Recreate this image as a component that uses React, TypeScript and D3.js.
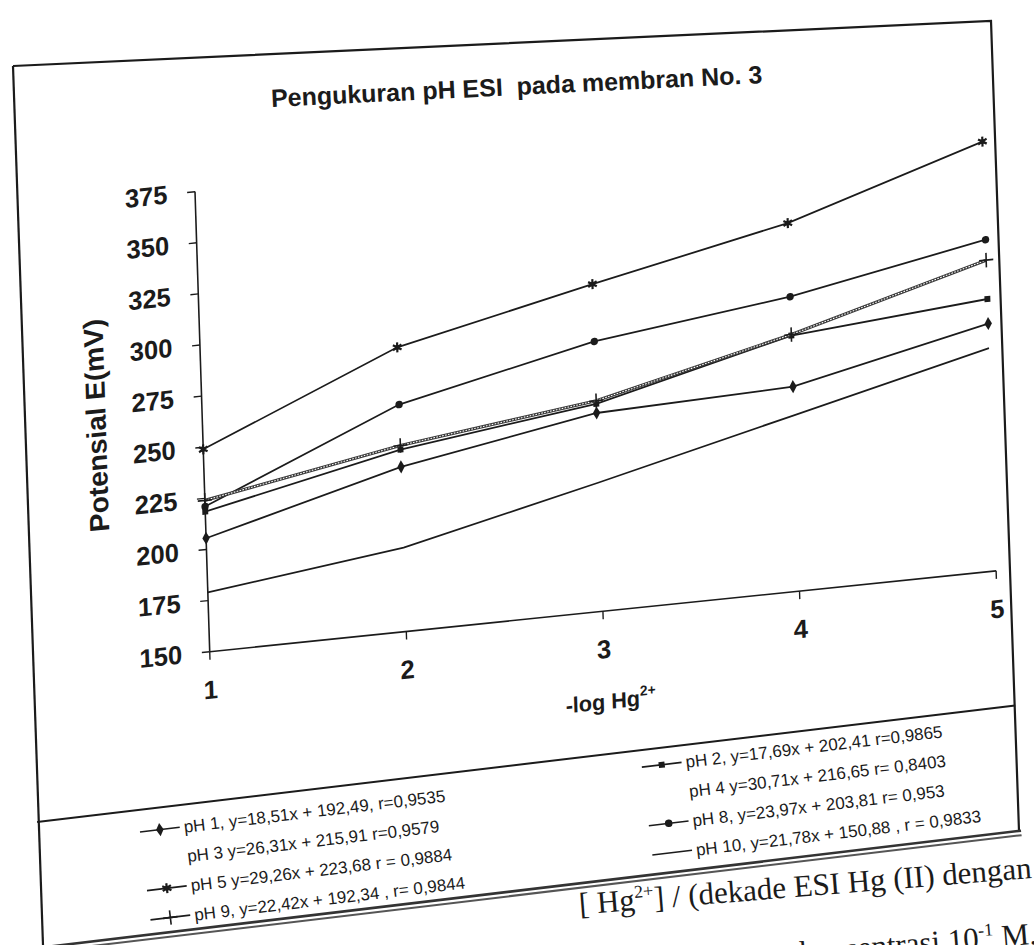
import React from "react";
import * as d3 from "d3";

// -log Hg2+ on x, potential (mV) on y
const xValues = [1, 2, 3, 4, 5];
const xTicks = [1, 2, 3, 4, 5];
const yTicks = [150, 175, 200, 225, 250, 275, 300, 325, 350, 375];

// values
const pH1 = [205.5, 230.5, 247, 250, 271];
const pH2 = [218.5, 239, 251.5, 275, 283];
const pH5 = [249, 289, 310, 330, 360];
const pH8 = [221, 261, 282, 294, 312];
const pH9 = [224, 241, 253, 275.5, 302];
const pH10 = [179, 191, 213, 236, 259];
// pH 3 and pH 4 lines printed too light to survive the scan, only legend text left

const legendLeft = [
  "pH 1, y=18,51x + 192,49, r=0,9535",
  "pH 3 y=26,31x + 215,91 r=0,9579",
  "pH 5 y=29,26x + 223,68 r = 0,9884",
  "pH 9, y=22,42x + 192,34 , r= 0,9844",
];
const legendLeftMarkers = ["diamond", "hidden", "asterisk", "plus"];
const legendRight = [
  "pH 2, y=17,69x + 202,41 r=0,9865",
  "pH 4 y=30,71x + 216,65 r= 0,8403",
  "pH 8, y=23,97x + 203,81 r= 0,953",
  "pH 10, y=21,78x + 150,88 , r = 0,9833",
];
const legendRightMarkers = ["square", "hidden", "circle", "none"];

const series = [
  { values: pH5, marker: "asterisk", hatched: false },
  { values: pH8, marker: "circle", hatched: false },
  { values: pH2, marker: "square", hatched: false },
  { values: pH9, marker: "plus", hatched: true },
  { values: pH1, marker: "diamond", hatched: false },
  { values: pH10, marker: "none", hatched: false },
];

const INK = "#1b1b1b";
const W = 800;
const H = 460;
// the page was photographed slanted
const PLOT_MATRIX = "matrix(0.983,-0.101,0.032,1,195,191.7)";
const LEG_ROW = 29.5;
const LEG_COL2 = 506;

function Marker({ kind, x, y }: { kind: string; x: number; y: number }) {
  const t = `translate(${x},${y})`;
  if (kind === "diamond")
    return <path transform={t} d={d3.symbol(d3.symbolDiamond, 50)()!} fill={INK} />;
  if (kind === "square")
    return <path transform={t} d={d3.symbol(d3.symbolSquare, 36)()!} fill={INK} />;
  if (kind === "circle")
    return <path transform={t} d={d3.symbol(d3.symbolCircle, 44)()!} fill={INK} />;
  if (kind === "plus")
    return (
      <path transform={t} d={d3.symbol(d3.symbolPlus, 70)()!} fill="none" stroke={INK} strokeWidth={1.6} />
    );
  if (kind === "asterisk")
    return (
      <g transform={t}>
        <path d={d3.symbol(d3.symbolAsterisk, 70)()!} fill="none" stroke={INK} strokeWidth={2.2} />
        <path d={d3.symbol(d3.symbolSquare, 18)()!} fill={INK} />
      </g>
    );
  return null;
}

function LegendItem({ x, y, kind, label }: { x: number; y: number; kind: string; label: string }) {
  return (
    <g>
      {kind !== "hidden" && <line x1={x} x2={x + 40} y1={y} y2={y} stroke={INK} strokeWidth={1.6} />}
      {kind !== "hidden" && <Marker kind={kind} x={x + 20} y={y} />}
      <text x={x + 44} y={y + 6} fontSize={17} fill={INK}>
        {label}
      </text>
    </g>
  );
}

export default function App() {
  const x = d3.scaleLinear().domain([1, 5]).range([0, W]);
  const y = d3.scaleLinear().domain([150, 375]).range([H, 0]);
  const line = d3
    .line<number>()
    .x((_, i) => x(xValues[i]))
    .y((d) => y(d));

  return (
    <svg
      width={1034}
      height={945}
      style={{ position: "absolute", left: 0, top: 0, background: "#fff" }}
      fontFamily="'Liberation Sans', Arial, sans-serif"
    >
      <rect width={1034} height={945} fill="#fff" />

      {/* frame */}
      <path d="M13,66 L991,21 L1019,831" fill="none" stroke={INK} strokeWidth={2.2} />
      <path d="M13,66 L43,945" fill="none" stroke={INK} strokeWidth={2.2} />

      {/* title */}
      <text
        x={517}
        y={95}
        transform="rotate(-2.8,517,95)"
        textAnchor="middle"
        fontSize={25}
        fontWeight="bold"
        fill={INK}
        xmlSpace="preserve"
      >
        Pengukuran pH ESI  pada membran No. 3
      </text>

      <g transform={PLOT_MATRIX}>
        {/* y axis */}
        <line x1={0} x2={0} y1={0} y2={H} stroke={INK} strokeWidth={1.6} />
        {yTicks.map((t) => (
          <g key={t} transform={`translate(0,${y(t)})`}>
            <line x1={-8} x2={0} stroke={INK} strokeWidth={1.4} />
            <text x={-28} y={9} textAnchor="end" fontSize={26} fontWeight="bold" fill={INK}>
              {t}
            </text>
          </g>
        ))}
        {/* x axis */}
        <line x1={0} x2={W} y1={H} y2={H} stroke={INK} strokeWidth={1.6} />
        {xTicks.map((t) => (
          <g key={t} transform={`translate(${x(t)},${H})`}>
            <line y1={0} y2={8} stroke={INK} strokeWidth={1.4} />
            <text y={47} textAnchor="middle" fontSize={26} fontWeight="bold" fill={INK}>
              {t}
            </text>
          </g>
        ))}
        <text x={405} y={558} textAnchor="middle" fontSize={22} fontWeight="bold" fill={INK}>
          -log Hg
          <tspan dy={-10} fontSize={14}>
            2+
          </tspan>
        </text>
        <text
          transform="translate(-108,223) rotate(-90)"
          textAnchor="middle"
          y={10}
          fontSize={28}
          fontWeight="bold"
          fill={INK}
        >
          Potensial E(mV)
        </text>

        {/* series */}
        {series.map((s, i) => (
          <g key={i}>
            {s.hatched ? (
              <>
                <path d={line(s.values)!} fill="none" stroke="#3a3a3a" strokeWidth={3.2} />
                <path d={line(s.values)!} fill="none" stroke="#fff" strokeWidth={1.1} strokeDasharray="1.6 1.4" />
              </>
            ) : (
              <path d={line(s.values)!} fill="none" stroke={INK} strokeWidth={1.8} />
            )}
            {s.values.map((v, j) => (
              <Marker key={j} kind={s.marker} x={x(xValues[j])} y={y(v)} />
            ))}
          </g>
        ))}
      </g>

      {/* legend */}
      <g transform="translate(140,832) rotate(-6.8)">
        <line x1={-101} x2={884} y1={-22} y2={-22} stroke={INK} strokeWidth={2} />
        <line x1={-101} x2={875} y1={103} y2={103} stroke="#333" strokeWidth={2.6} />
        <line x1={-101} x2={875} y1={107.5} y2={107.5} stroke="#555" strokeWidth={2} />
        {legendLeft.map((label, i) => (
          <LegendItem key={label} x={0} y={i * LEG_ROW} kind={legendLeftMarkers[i]} label={label} />
        ))}
        {legendRight.map((label, i) => (
          <LegendItem key={label} x={LEG_COL2} y={i * LEG_ROW - 5} kind={legendRightMarkers[i]} label={label} />
        ))}
      </g>

      {/* caption of the page below the figure */}
      <g transform="rotate(-4.6,1032,876)" fontFamily="'Liberation Serif', 'Times New Roman', serif" fontSize={31} fill={INK}>
        <text x={1032} y={878} textAnchor="end">
          [ Hg
          <tspan dy={-12} fontSize={18}>
            2+
          </tspan>
          <tspan dy={12}>] / (dekade ESI Hg (II) dengan</tspan>
        </text>
        <text x={1032} y={944} textAnchor="end">
          konsentrasi 10
          <tspan dy={-12} fontSize={18}>
            -1
          </tspan>
          <tspan dy={12}> M.</tspan>
        </text>
      </g>
    </svg>
  );
}
